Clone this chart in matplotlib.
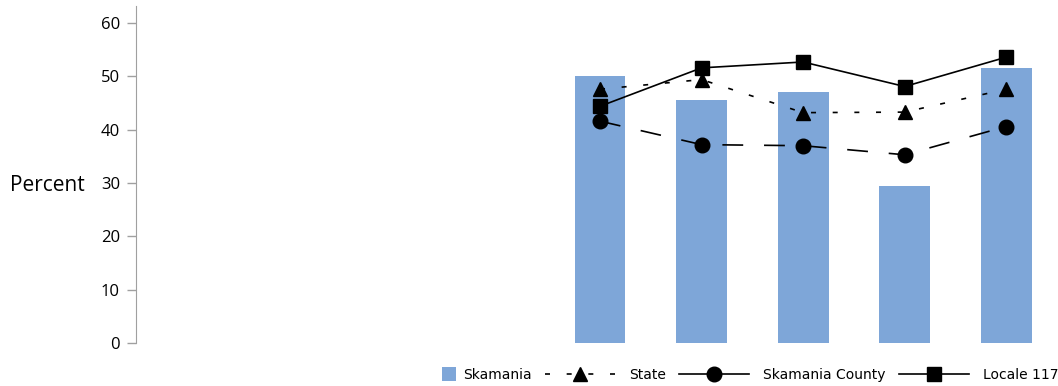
import matplotlib.pyplot as plt
import matplotlib.patches as mpatches
from matplotlib.lines import Line2D
from matplotlib.legend_handler import HandlerPatch
import numpy as np

nan = np.nan
# nine category slots on the x axis, the first four have no data
categories = ['', '', '', '', '', '', '', '', '']
skamania = [nan, nan, nan, nan, 50.0, 45.5, 47.1, 29.5, 51.6]
state = [nan, nan, nan, nan, 47.6, 49.4, 43.2, 43.3, 47.6]
county = [nan, nan, nan, nan, 41.6, 37.2, 37.0, 35.3, 40.6]
locale = [nan, nan, nan, nan, 44.4, 51.6, 52.7, 48.1, 53.6]

bar_color = '#7ea6d8'
axis_gray = '#a0a0a0'


class SquareHandler(HandlerPatch):
    # small square drawn at the right end of the handle box, close to the text
    def create_artists(self, legend, orig_handle, xdescent, ydescent,
                       width, height, fontsize, trans):
        s = fontsize * 1.0
        p = mpatches.Rectangle((width - s - xdescent + 0.5 * fontsize,
                                -ydescent + (height - s) / 2),
                               s, s, facecolor=orig_handle.get_facecolor(),
                               edgecolor='none', transform=trans)
        return [p]


fig = plt.figure(figsize=(10.58, 3.86), dpi=100)
ax = fig.add_axes([136 / 1058, 43 / 386, 921 / 1058, 337 / 386])

x = np.arange(len(categories))
ax.bar(x, skamania, width=0.5, color=bar_color, zorder=1)

ax.plot(x, state, color='black', lw=1.2, dashes=(3, 10), marker='^', ms=10, zorder=3)
ax.plot(x, county, color='black', lw=1.2, dashes=(12.5, 12.5), marker='o', ms=10.5, zorder=3)
ax.plot(x, locale, color='black', lw=1.2, marker='s', ms=10, zorder=3)

ax.set_xlim(-0.57, 8.5)
ax.set_ylim(0, 63.2)
ax.set_yticks(range(0, 61, 10))
ax.set_xticks([])
for s in ['top', 'right', 'bottom']:
    ax.spines[s].set_visible(False)
ax.spines['left'].set_color(axis_gray)
ax.tick_params(axis='y', colors=axis_gray, length=6.5, width=1, pad=5,
               labelcolor='black')
for lab in ax.get_yticklabels():
    lab.set_fontfamily('Open Sans')
    lab.set_fontsize(12)

fig.text(10 / 1058, 1 - 186 / 386, 'Percent', family='Open Sans', fontsize=15,
         ha='left', va='center')

handles = [
    mpatches.Patch(facecolor=bar_color),
    Line2D([], [], color='black', lw=1.2, dashes=(3, 10), marker='^', ms=10),
    Line2D([], [], color='black', lw=1.2, marker='o', ms=10.5),
    Line2D([], [], color='black', lw=1.2, marker='s', ms=10),
]
labels = ['Skamania', 'State', 'Skamania County', 'Locale 117']
fig.legend(handles, labels, loc='center right', bbox_to_anchor=(1.0, 1 - 375 / 386),
           ncol=4, frameon=False, prop={'family': 'DejaVu Sans', 'size': 10},
           handlelength=5, handletextpad=1.0, columnspacing=1.0, borderpad=0,
           borderaxespad=0, handler_map={mpatches.Patch: SquareHandler()})

fig.savefig('out.png', dpi=100)
